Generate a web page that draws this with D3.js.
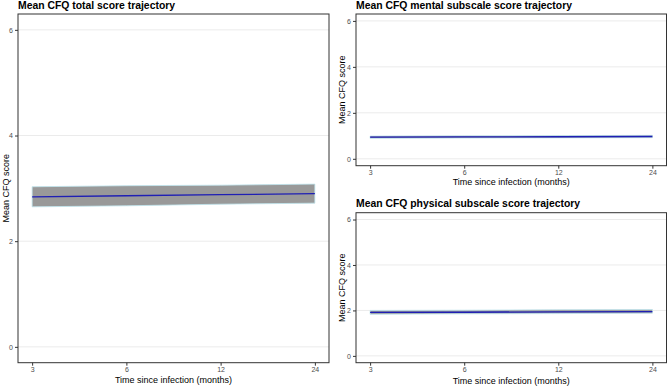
<!DOCTYPE html>
<html>
<head>
<meta charset="utf-8">
<script src="https://cdn.jsdelivr.net/npm/d3@7"></script>
<style>
  body { margin: 0; background: #fff; }
  svg { display: block; font-family: "Liberation Sans", Arial, sans-serif; }
</style>
</head>
<body>
<script>
var width = 668;
var height = 386;

var months = [3, 6, 12, 24];
var yTicks = [0, 2, 4, 6];

var totalMean = [2.84, 2.86, 2.88, 2.90];
var totalLow = [2.65, 2.67, 2.70, 2.72];
var totalHigh = [3.03, 3.05, 3.06, 3.08];

var mentalMean = [0.94, 0.95, 0.96, 0.97];
var mentalLow = [0.89, 0.90, 0.91, 0.92];
var mentalHigh = [0.99, 1.00, 1.01, 1.02];

var physicalMean = [1.91, 1.92, 1.94, 1.95];
var physicalLow = [1.83, 1.85, 1.86, 1.88];
var physicalHigh = [2.00, 2.01, 2.03, 2.04];

var panels = [
  { title: 'Mean CFQ total score trajectory', mean: totalMean, low: totalLow, high: totalHigh,
    x0: 18, x1: 329, y0: 14, y1: 362.7, titleY: 9, xlabY: 383, ylabX: 6 },
  { title: 'Mean CFQ mental subscale score trajectory', mean: mentalMean, low: mentalLow, high: mentalHigh,
    x0: 356, x1: 666.5, y0: 14, y1: 165.7, titleY: 9, xlabY: 185, ylabX: 342 },
  { title: 'Mean CFQ physical subscale score trajectory', mean: physicalMean, low: physicalLow, high: physicalHigh,
    x0: 356, x1: 666.5, y0: 212.7, y1: 362.7, titleY: 207, xlabY: 383.5, ylabX: 342 }
];

var svg = d3.select('body').append('svg').attr('width', width).attr('height', height);

panels.forEach(drawPanel);

function drawPanel(p) {
  var lx = Math.log2(3), hx = Math.log2(24), ex = (hx - lx) * 0.05;
  var x = d3.scaleLog().base(2).domain([Math.pow(2, lx - ex), Math.pow(2, hx + ex)]).range([p.x0, p.x1]);
  var y = d3.scaleLinear().domain([-0.3, 6.3]).range([p.y1, p.y0]);
  var g = svg.append('g');

  // grid
  g.selectAll('.grid').data(yTicks).enter().append('line')
    .attr('x1', p.x0).attr('x2', p.x1)
    .attr('y1', y).attr('y2', y)
    .attr('stroke', '#ebebeb').attr('stroke-width', 1);

  var rows = months.map(function (m, i) {
    return { m: m, mean: p.mean[i], low: p.low[i], high: p.high[i] };
  });

  var area = d3.area().x(function (d) { return x(d.m); })
    .y0(function (d) { return y(d.low); }).y1(function (d) { return y(d.high); });
  var line = d3.line().x(function (d) { return x(d.m); }).y(function (d) { return y(d.mean); });

  g.append('path').datum(rows).attr('d', area)
    .attr('fill', '#999999').attr('stroke', '#bfe4ee').attr('stroke-width', 0.8);
  g.append('path').datum(rows).attr('d', line)
    .attr('fill', 'none').attr('stroke', '#1f1fb4').attr('stroke-width', 1.3);

  // axes
  var xa = g.append('g').attr('transform', 'translate(0,' + p.y1 + ')')
    .call(d3.axisBottom(x).tickValues(months).tickFormat(d3.format('d')).tickSize(3).tickPadding(1.5));
  var ya = g.append('g').attr('transform', 'translate(' + p.x0 + ',0)')
    .call(d3.axisLeft(y).tickValues(yTicks).tickFormat(d3.format('d')).tickSize(3).tickPadding(2));
  [xa, ya].forEach(function (a) {
    a.select('.domain').remove();
    a.selectAll('line').attr('stroke', '#333');
    a.selectAll('text').attr('fill', '#4d4d4d').style('font-size', '7px').style('font-family', 'inherit');
  });

  g.append('rect').attr('x', p.x0).attr('y', p.y0)
    .attr('width', p.x1 - p.x0).attr('height', p.y1 - p.y0)
    .attr('fill', 'none').attr('stroke', '#333').attr('stroke-width', 1);

  g.append('text').attr('x', p.x0).attr('y', p.titleY)
    .style('font-size', '10.4px').style('font-weight', 'bold').text(p.title);
  g.append('text').attr('x', (p.x0 + p.x1) / 2).attr('y', p.xlabY)
    .attr('text-anchor', 'middle').style('font-size', '9px').text('Time since infection (months)');
  g.append('text').attr('transform', 'translate(' + p.ylabX + ',' + (p.y0 + p.y1) / 2 + ') rotate(-90)')
    .attr('text-anchor', 'middle').attr('dy', '0.35em').style('font-size', '9px').text('Mean CFQ score');
}
</script>
</body>
</html>
